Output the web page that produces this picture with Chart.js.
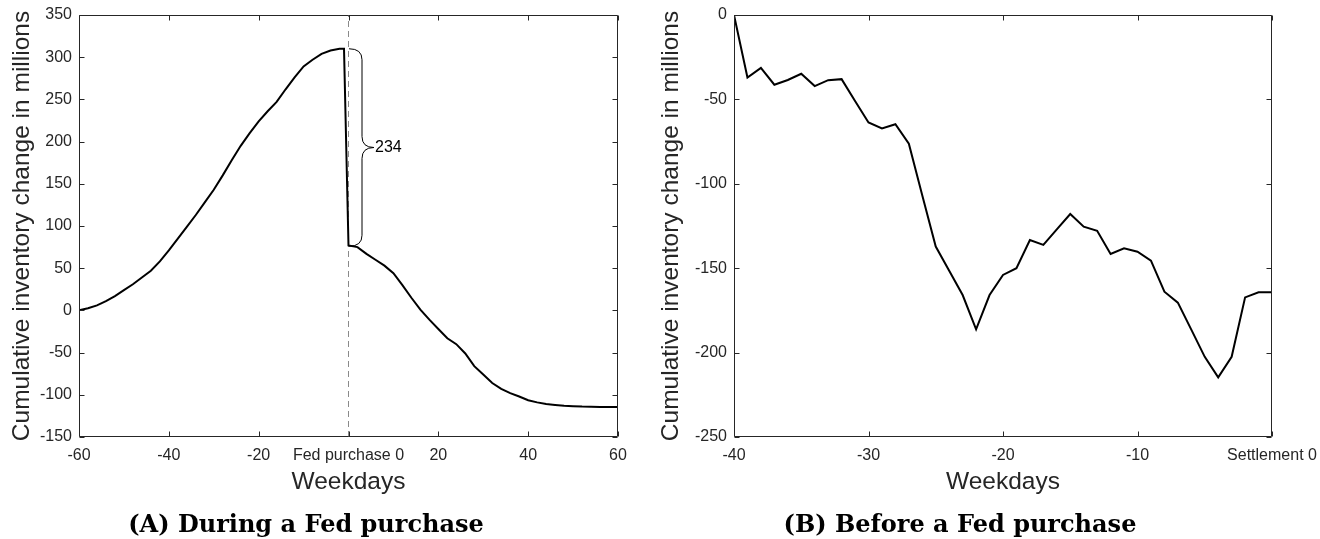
<!DOCTYPE html>
<html><head><meta charset="utf-8">
<script src="https://cdn.jsdelivr.net/npm/chart.js@4.4.0/dist/chart.umd.min.js"></script>
<style>
html,body{margin:0;padding:0;background:#fff;}
#wrap{position:relative;width:1320px;height:539px;overflow:hidden;}
canvas{position:absolute;top:0;}
.cap{position:absolute;font-family:"DejaVu Serif",serif;font-weight:bold;font-size:24px;line-height:24px;white-space:nowrap;transform:translateX(-50%);color:#000;}
</style></head><body>
<div id="wrap">
<canvas id="cA" width="645" height="539" style="left:0"></canvas>
<canvas id="cB" width="675" height="539" style="left:645px"></canvas>
<div class="cap" style="left:306px;top:512px">(A) During a Fed purchase</div>
<div class="cap" style="left:960px;top:512px">(B) Before a Fed purchase</div>
</div>
<script>
// ---- Panel A: during a Fed purchase ----
const daysA = [-60,-58,-56,-54,-52,-50,-48,-46,-44,-42,-40,-38,-36,-34,-32,-30,-28,-26,-24,-22,-20,-18,-16,-14,-12,-10,-8,-6,-4,-2,-1,
  0,2,4,6,8,10,12,14,16,18,20,22,24,26,28,30,32,34,36,38,40,42,44,46,48,50,52,54,56,58,60];
const inventoryA = [0,2.5,6,11,17,24,31,39,47,58,71,85,99,113,128,143,160,178,195,210,224,236,247,262,276,289,297,304,308,310,310,
  77,75,67,60,53,44,30,15,1,-11,-22,-33,-40,-51,-66,-76,-86,-93,-98,-102,-106.5,-109,-111,-112,-113,-113.5,-114,-114.2,-114.4,-114.5,-114.5];
const xTicksA = [-60,-40,-20,0,20,40,60];
const xTickLabelsA = ['-60','-40','-20','Fed purchase 0','20','40','60'];
const yTicksA = [-150,-100,-50,0,50,100,150,200,250,300,350];
const fedPurchaseDay = 0;
const braceValues = [310, 76];
const braceLabel = '234';

// ---- Panel B: before a Fed purchase ----
const daysB = [-40,-39,-38,-37,-36,-35,-34,-33,-32,-31,-30,-29,-28,-27,-26,-25,-24,-23,-22,-21,-20,
  -19,-18,-17,-16,-15,-14,-13,-12,-11,-10,-9,-8,-7,-6,-5,-4,-3,-2,-1,0];
const inventoryB = [0,-37,-31.3,-41.3,-38.5,-34.8,-42.1,-38.6,-38,-51,-63.7,-67.2,-64.7,-76.3,-107,-137.2,-151.5,-165.9,-186.2,-165.9,-154,
  -150,-133.3,-136.2,-127,-117.9,-125.4,-127.8,-141.6,-138.2,-140.2,-145.5,-163.9,-170.4,-186.4,-202.5,-214.7,-202.5,-167.3,-164.3,-164.3];
const xTicksB = [-40,-30,-20,-10,0];
const xTickLabelsB = ['-40','-30','-20','-10','Settlement 0'];
const yTicksB = [-250,-200,-150,-100,-50,0];

const AX = '#262626';
const FONT = 'Liberation Sans';

const boxTicks = {
  id:'boxTicks',
  afterDatasetsDraw(chart){
    const {ctx, chartArea:a, scales} = chart;
    const L = Math.round(a.left)+0.5, R = Math.round(a.right)-0.5, T = Math.round(a.top)+0.5, B = Math.round(a.bottom)-0.5;
    ctx.save();
    ctx.strokeStyle = AX; ctx.lineWidth = 1;
    ctx.beginPath();
    ctx.rect(L, T, R-L, B-T);
    const tl = 5;
    scales.x.ticks.forEach(t=>{
      const x = Math.round(scales.x.getPixelForValue(t.value))+0.5;
      ctx.moveTo(x, B); ctx.lineTo(x, B-tl);
      ctx.moveTo(x, T); ctx.lineTo(x, T+tl);
    });
    scales.y.ticks.forEach(t=>{
      const y = Math.round(scales.y.getPixelForValue(t.value))+0.5;
      ctx.moveTo(L, y); ctx.lineTo(L+tl, y);
      ctx.moveTo(R, y); ctx.lineTo(R-tl, y);
    });
    ctx.stroke();
    ctx.restore();
  }
};

const bracePlugin = {
  id:'brace',
  afterDatasetsDraw(chart){
    const {ctx, scales} = chart;
    const x0 = scales.x.getPixelForValue(fedPurchaseDay) + 0.5;
    const yT = scales.y.getPixelForValue(braceValues[0]);
    const yB = scales.y.getPixelForValue(braceValues[1]);
    const yM = (yT + yB) / 2;
    const xb = x0 + 13, xt = x0 + 25, r = 11;
    ctx.save();
    ctx.strokeStyle = '#000'; ctx.lineWidth = 1;
    ctx.beginPath();
    ctx.moveTo(x0, yT);
    ctx.quadraticCurveTo(xb, yT, xb, yT + r);
    ctx.lineTo(xb, yM - r);
    ctx.quadraticCurveTo(xb, yM, xt, yM);
    ctx.quadraticCurveTo(xb, yM, xb, yM + r);
    ctx.lineTo(xb, yB - r);
    ctx.quadraticCurveTo(xb, yB, x0, yB);
    ctx.stroke();
    ctx.fillStyle = '#000';
    ctx.font = '16px "' + FONT + '"';
    ctx.textAlign = 'left'; ctx.textBaseline = 'middle';
    ctx.fillText(braceLabel, xt + 1, yM);
    ctx.restore();
  }
};

function makeOptions(c){
  return {
    responsive:false, animation:false, devicePixelRatio:1,
    layout:{padding:{left:0, top:15, right:c.padRight, bottom:32}},
    plugins:{legend:{display:false}, tooltip:{enabled:false}},
    elements:{point:{radius:0}, line:{tension:0}},
    scales:{
      x:{type:'linear', position:'bottom', min:c.xMin, max:c.xMax,
        grid:{display:false, drawTicks:false}, border:{display:false},
        afterBuildTicks:s=>{ s.ticks = c.xTicks.map(v=>({value:v})); },
        ticks:{autoSkip:false, maxRotation:0, minRotation:0, padding:9, color:AX, font:{family:FONT, size:16},
          callback:(v)=>{ const i = c.xTicks.indexOf(v); return i>=0 ? c.xLabels[i] : ''; }},
        title:{display:true, text:'Weekdays', color:AX, font:{family:FONT, size:24.5}, padding:{top:0, bottom:10}},
        afterFit:s=>{ s.height = 70; s.paddingLeft = 0; s.paddingRight = 0; }
      },
      y:{type:'linear', position:'left', min:c.yMin, max:c.yMax,
        grid:{display:false, drawTicks:false}, border:{display:false},
        afterBuildTicks:s=>{ s.ticks = c.yTicks.map(v=>({value:v})); },
        ticks:{autoSkip:false, padding:7, color:AX, font:{family:FONT, size:16}},
        title:{display:true, text:'Cumulative inventory change in millions', color:AX, font:{family:FONT, size:24.5}, padding:{top:c.yTitlePad, bottom:0}},
        afterFit:s=>{ s.width = c.yWidth; s.paddingTop = 0; s.paddingBottom = 0; }
      }
    }
  };
}

new Chart(document.getElementById('cA'), {
  type:'line',
  data:{datasets:[
    {data:daysA.map((d,i)=>({x:d, y:inventoryA[i]})), borderColor:'#000', borderWidth:2, fill:false},
    {data:[{x:fedPurchaseDay, y:yTicksA[0]},{x:fedPurchaseDay, y:yTicksA[yTicksA.length-1]}], borderColor:'#8a8a8a', borderWidth:1, borderDash:[6,4], fill:false}
  ]},
  options:makeOptions({xMin:-60, xMax:60, yMin:-150, yMax:350, xTicks:xTicksA, xLabels:xTickLabelsA, yTicks:yTicksA, padRight:27, yWidth:79, yTitlePad:8}),
  plugins:[boxTicks, bracePlugin]
});

new Chart(document.getElementById('cB'), {
  type:'line',
  data:{datasets:[
    {data:daysB.map((d,i)=>({x:d, y:inventoryB[i]})), borderColor:'#000', borderWidth:2, fill:false}
  ]},
  options:makeOptions({xMin:-40, xMax:0, yMin:-250, yMax:0, xTicks:xTicksB, xLabels:xTickLabelsB, yTicks:yTicksB, padRight:48, yWidth:89, yTitlePad:12}),
  plugins:[boxTicks]
});
</script>
</body></html>
